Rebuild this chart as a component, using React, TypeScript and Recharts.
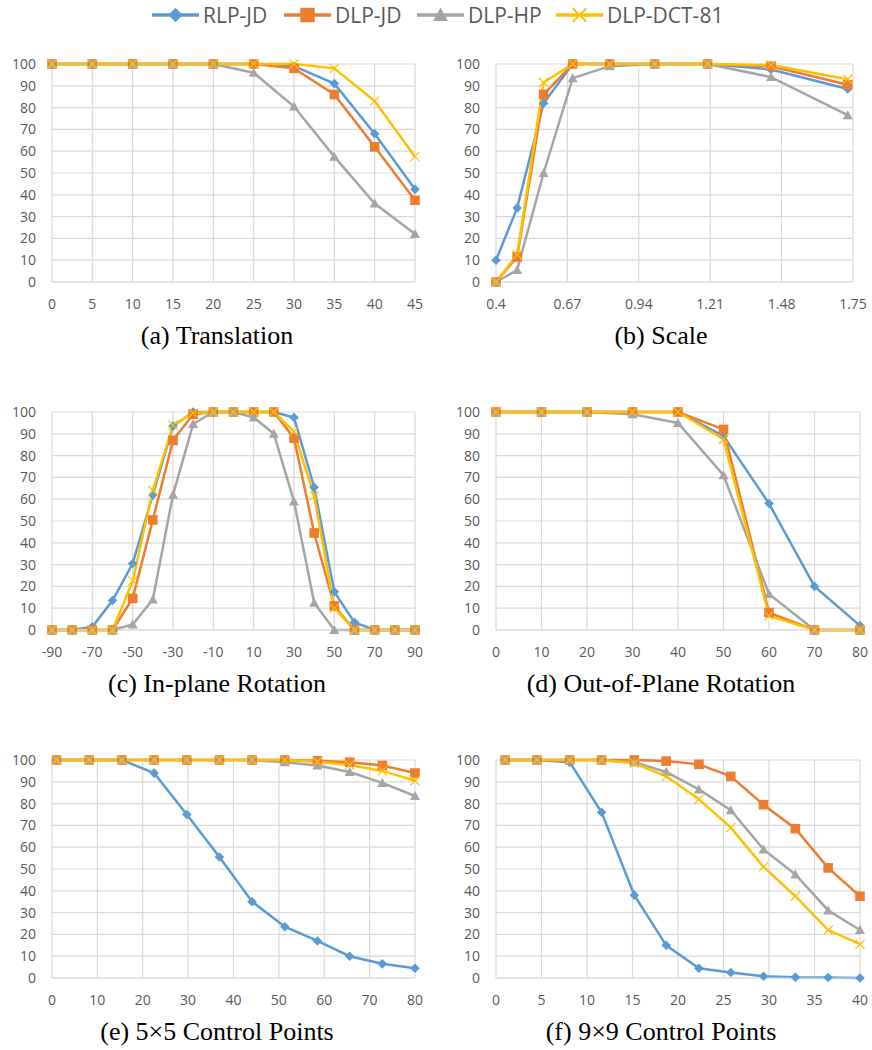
import { LineChart, Line, XAxis, YAxis, CartesianGrid } from 'recharts';

// ---- data -----------------------------------------------------------------

const yTicks = [0, 10, 20, 30, 40, 50, 60, 70, 80, 90, 100];

// (a) Translation
const transX = [0, 5, 10, 15, 20, 25, 30, 35, 40, 45];
const transRlpJd = [100, 100, 100, 100, 100, 100, 99, 91, 68, 42.5];
const transDlpJd = [100, 100, 100, 100, 100, 100, 98, 86, 62, 37.5];
const transDlpHp = [100, 100, 100, 100, 100, 96, 80.5, 57.5, 36, 22];
const transDlpDct = [100, 100, 100, 100, 100, 100, 100, 98, 83, 57.5];
const transTicks = [0, 5, 10, 15, 20, 25, 30, 35, 40, 45];

// (b) Scale
const scaleX = [0.4, 0.48, 0.58, 0.69, 0.83, 1.0, 1.2, 1.44, 1.73];
const scaleRlpJd = [10, 34, 82, 100, 100, 100, 100, 97.5, 88.5];
const scaleDlpJd = [0, 11.5, 86, 100, 100, 100, 100, 99, 90.5];
const scaleDlpHp = [0, 5.5, 50, 93.5, 99, 100, 100, 94, 76.5];
const scaleDlpDct = [0, 12.5, 91.5, 100, 100, 100, 100, 99.5, 93];
const scaleTicks = [0.4, 0.67, 0.94, 1.21, 1.48, 1.75];

// (c) In-plane rotation
const rotX = [-90, -80, -70, -60, -50, -40, -30, -20, -10, 0, 10, 20, 30, 40, 50, 60, 70, 80, 90];
const rotRlpJd = [0, 0, 1.5, 13.5, 30.5, 62, 93.5, 100, 100, 100, 100, 100, 97.5, 65.5, 17.5, 3.5, 0, 0, 0];
const rotDlpJd = [0, 0, 0, 0, 14.5, 50.5, 87, 99, 100, 100, 100, 100, 88, 44.5, 11, 0, 0, 0, 0];
const rotDlpHp = [0, 0, 0, 0, 2.5, 14, 62, 94.5, 100, 100, 97.5, 90, 59, 12.5, 0, 0, 0, 0, 0];
const rotDlpDct = [0, 0, 0, 0, 22.5, 64, 94, 99.5, 100, 100, 100, 100, 91, 61.5, 10, 0, 0, 0, 0];
const rotTicks = [-90, -70, -50, -30, -10, 10, 30, 50, 70, 90];

// (d) Out-of-plane rotation
const oopX = [0, 10, 20, 30, 40, 50, 60, 70, 80];
const oopRlpJd = [100, 100, 100, 100, 100, 89, 58, 20, 2];
const oopDlpJd = [100, 100, 100, 100, 100, 92, 8, 0, 0];
const oopDlpHp = [100, 100, 100, 99, 95, 71, 16.5, 0, 0];
const oopDlpDct = [100, 100, 100, 100, 100, 87.5, 6.5, 0, 0];
const oopTicks = [0, 10, 20, 30, 40, 50, 60, 70, 80];

// (e) 5x5 control points
const cp5X = [1, 8.2, 15.4, 22.5, 29.7, 36.9, 44.1, 51.3, 58.5, 65.6, 72.8, 80];
const cp5RlpJd = [100, 100, 100, 94, 75, 55.5, 35, 23.5, 17, 10, 6.5, 4.5];
const cp5DlpJd = [100, 100, 100, 100, 100, 100, 100, 100, 99.7, 99, 97.5, 94];
const cp5DlpHp = [100, 100, 100, 100, 100, 100, 100, 99, 97.5, 94.5, 89.5, 83.5];
const cp5DlpDct = [100, 100, 100, 100, 100, 100, 100, 100, 99.2, 97.7, 95, 90.5];
const cp5Ticks = [0, 10, 20, 30, 40, 50, 60, 70, 80];

// (f) 9x9 control points
const cp9X = [1, 4.5, 8.1, 11.6, 15.2, 18.7, 22.3, 25.8, 29.4, 32.9, 36.5, 40];
const cp9RlpJd = [100, 100, 99, 76, 38, 15, 4.5, 2.5, 0.8, 0.3, 0.2, 0];
const cp9DlpJd = [100, 100, 100, 100, 100, 99.5, 98, 92.5, 79.5, 68.5, 50.5, 37.5];
const cp9DlpHp = [100, 100, 100, 100, 99, 94.5, 86.5, 77, 59, 47.5, 31, 22];
const cp9DlpDct = [100, 100, 100, 100, 98.5, 92.5, 82, 69, 51, 37.5, 22, 15.5];
const cp9Ticks = [0, 5, 10, 15, 20, 25, 30, 35, 40];

// ---- styling --------------------------------------------------------------

const SERIES = [
  { key: 'rlp', name: 'RLP-JD', color: '#5b9bd5', shape: 'diamond' },
  { key: 'djd', name: 'DLP-JD', color: '#ed7d31', shape: 'square' },
  { key: 'dhp', name: 'DLP-HP', color: '#a5a5a5', shape: 'triangle' },
  { key: 'dct', name: 'DLP-DCT-81', color: '#ffc000', shape: 'cross' },
];

const AXIS_FONT = "'Open Sans', sans-serif";
const TEXT_GRAY = '#595959';
const GRID = '#d9d9d9';
const PAGE_W = 872;

function Marker({ shape, color, cx, cy, r = 1 }: any) {
  if (cx == null || cy == null || isNaN(cx) || isNaN(cy)) return null;
  if (shape === 'diamond') {
    const s = 4.8 * r;
    return <polygon points={`${cx},${cy - s} ${cx + s},${cy} ${cx},${cy + s} ${cx - s},${cy}`} fill={color} />;
  }
  if (shape === 'square') {
    const s = 4.8 * r;
    return <rect x={cx - s} y={cy - s} width={2 * s} height={2 * s} fill={color} />;
  }
  if (shape === 'triangle') {
    const s = 5 * r;
    return <polygon points={`${cx},${cy - s} ${cx + s},${cy + s * 0.8} ${cx - s},${cy + s * 0.8}`} fill={color} />;
  }
  const s = 4.5 * r;
  return (
    <path
      d={`M${cx - s},${cy - s}L${cx + s},${cy + s}M${cx - s},${cy + s}L${cx + s},${cy - s}`}
      stroke={color}
      strokeWidth={1.2 * r}
      fill="none"
    />
  );
}

const makeDot = (shape: string, color: string) => (props: any) => (
  <g key={`dot-${shape}-${props.index}`}>
    <Marker shape={shape} color={color} cx={props.cx} cy={props.cy} />
  </g>
);

// ---- panels ---------------------------------------------------------------

const buildRows = (xs: number[], a: number[], b: number[], c: number[], d: number[]) =>
  xs.map((x, i) => ({ x, rlp: a[i], djd: b[i], dhp: c[i], dct: d[i] }));

const PANELS = [
  {
    title: '(a) Translation', data: buildRows(transX, transRlpJd, transDlpJd, transDlpHp, transDlpDct),
    ticks: transTicks, domain: [0, 45], left: 0, plotLeft: 52, plotRight: 415, plotTop: 64, plotBottom: 282, titleX: 217, titleBase: 345,
  },
  {
    title: '(b) Scale', data: buildRows(scaleX, scaleRlpJd, scaleDlpJd, scaleDlpHp, scaleDlpDct),
    ticks: scaleTicks, domain: [0.4, 1.75], left: 430, plotLeft: 496, plotRight: 853, plotTop: 64, plotBottom: 282, titleX: 661, titleBase: 345,
  },
  {
    title: '(c) In-plane Rotation', data: buildRows(rotX, rotRlpJd, rotDlpJd, rotDlpHp, rotDlpDct),
    ticks: rotTicks, domain: [-90, 90], left: 0, plotLeft: 52, plotRight: 415, plotTop: 412, plotBottom: 630, titleX: 217, titleBase: 693,
  },
  {
    title: '(d) Out-of-Plane Rotation', data: buildRows(oopX, oopRlpJd, oopDlpJd, oopDlpHp, oopDlpDct),
    ticks: oopTicks, domain: [0, 80], left: 430, plotLeft: 496, plotRight: 860, plotTop: 412, plotBottom: 630, titleX: 661, titleBase: 693,
  },
  {
    title: '(e) 5\u00d75 Control Points', data: buildRows(cp5X, cp5RlpJd, cp5DlpJd, cp5DlpHp, cp5DlpDct),
    ticks: cp5Ticks, domain: [0, 80], left: 0, plotLeft: 52, plotRight: 415, plotTop: 760, plotBottom: 978, titleX: 217, titleBase: 1041,
  },
  {
    title: '(f) 9\u00d79 Control Points', data: buildRows(cp9X, cp9RlpJd, cp9DlpJd, cp9DlpHp, cp9DlpDct),
    ticks: cp9Ticks, domain: [0, 40], left: 430, plotLeft: 496, plotRight: 860, plotTop: 760, plotBottom: 978, titleX: 661, titleBase: 1041,
  },
];

const TOP_PAD = 10;
const XAXIS_H = 40;

function Panel({ p }: any) {
  // left column gets a fixed gutter, right column runs to the page edge
  const rightPad = p.left === 0 ? 15 : PAGE_W - p.plotRight;
  const width = p.plotRight + rightPad - p.left;
  const height = TOP_PAD + (p.plotBottom - p.plotTop) + XAXIS_H;
  const tickStyle = { fontSize: 14, fill: TEXT_GRAY, fontFamily: AXIS_FONT };
  return (
    <>
      <div style={{ position: 'absolute', left: p.left, top: p.plotTop - TOP_PAD }}>
        <LineChart width={width} height={height} data={p.data} margin={{ top: TOP_PAD, right: rightPad, bottom: 0, left: 0 }}>
          <CartesianGrid stroke={GRID} strokeWidth={1.2} />
          <XAxis
            type="number"
            dataKey="x"
            domain={p.domain}
            ticks={p.ticks}
            interval={0}
            height={XAXIS_H}
            tickSize={0}
            tickMargin={17}
            tickLine={false}
            axisLine={{ stroke: GRID, strokeWidth: 1.2 }}
            tick={tickStyle}
          />
          <YAxis
            type="number"
            domain={[0, 100]}
            ticks={yTicks}
            interval={0}
            width={p.plotLeft - p.left}
            tickSize={0}
            tickMargin={16}
            tickLine={false}
            axisLine={false}
            tick={tickStyle}
          />
          {SERIES.map((s) => (
            <Line
              key={s.key}
              dataKey={s.key}
              name={s.name}
              stroke={s.color}
              strokeWidth={2.5}
              dot={makeDot(s.shape, s.color)}
              activeDot={false}
              isAnimationActive={false}
            />
          ))}
        </LineChart>
      </div>
      <div
        style={{
          position: 'absolute',
          left: p.titleX - 200,
          width: 400,
          top: p.titleBase - 21.8,
          textAlign: 'center',
          fontFamily: "'Liberation Serif', 'Times New Roman', serif",
          fontSize: 26,
          lineHeight: '26px',
          color: '#000',
          whiteSpace: 'nowrap',
        }}
      >
        {p.title}
      </div>
    </>
  );
}

// shared legend across the top
const LEGEND_X = [152, 284, 417, 556];

function SharedLegend() {
  const cy = 15;
  return (
    <svg width={PAGE_W} height={32} style={{ position: 'absolute', left: 0, top: 0 }}>
      {SERIES.map((s, i) => {
        const x0 = LEGEND_X[i];
        return (
          <g key={s.key}>
            <line x1={x0} x2={x0 + 47} y1={cy} y2={cy} stroke={s.color} strokeWidth={3.5} />
            <Marker shape={s.shape} color={s.color} cx={x0 + 23.5} cy={cy} r={1.5} />
            <text x={x0 + 51} y={cy} dominantBaseline="central" fontFamily={AXIS_FONT} fontSize={21} fill={TEXT_GRAY}>
              {s.name}
            </text>
          </g>
        );
      })}
    </svg>
  );
}

export default function App() {
  return (
    <div style={{ position: 'absolute', left: 0, top: 0, width: PAGE_W, height: 1050, background: '#fff' }}>
      <SharedLegend />
      {PANELS.map((p) => (
        <Panel key={p.title} p={p} />
      ))}
    </div>
  );
}
